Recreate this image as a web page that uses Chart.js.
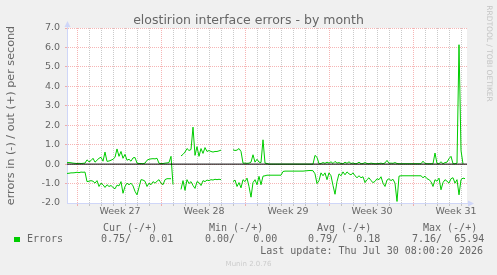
<!DOCTYPE html>
<html>
<head>
<meta charset="utf-8">
<title>elostirion interface errors - by month</title>
<script src="https://cdn.jsdelivr.net/npm/chart.js@4.4.1/dist/chart.umd.min.js"></script>
<style>
  html, body { margin: 0; padding: 0; background: #f0f0f0; }
  #graph { display: block; }
</style>
</head>
<body>
<canvas id="graph" width="497" height="275"></canvas>
<script>
// one sample every 4 hours, graph spans 800 hours
const HOURS_PER_SAMPLE = 4;
const SPAN_HOURS = 800;
const FIRST_MIDNIGHT = 20;   // hour of first day boundary
const FIRST_WEEK = 20;       // hour of first week boundary (Monday)
const LABEL_OFFSET = 86;     // week label sits mid-week

// errors out (+) per second
const outErrors = [
  0.08, 0.08, 0.07, 0.05, 0.04, 0.03, 0.04, 0.03, 0.04, 0.05,
  0.22, 0.12, 0.18, 0.30, 0.10, 0.20, 0.30, 0.35, 0.15, 0.62,
  0.14, 0.16, 0.20, 0.25, 0.35, 0.78, 0.40, 0.65, 0.30, 0.50,
  0.20, 0.25, 0.15, 0.32, 0.34, 0.05, 0.03, 0.03, 0.02, 0.05,
  0.20, 0.25, 0.27, 0.28, 0.27, 0.30, 0.04, 0.03, 0.03, 0.05,
  0.06, 0.08, 0.40, -1.05, null, null, null, 0.42, 0.50, 0.62,
  0.80, 0.70, 0.75, 1.90, 0.45, 0.90, 0.40, 0.80, 0.55, 0.85,
  0.65, 0.70, 0.65, 0.62, 0.65, 0.65, 0.68, 0.72, null, null,
  null, null, null, 0.74, 0.70, 0.72, 0.80, 0.65, 0.05, 0.05,
  0.04, 0.05, 0.10, 0.48, 0.10, 0.25, 0.10, 0.08, 1.25, 0.05,
  0.03, 0.00, 0.00, 0.00, 0.00, 0.00, 0.00, 0.00, 0.00, 0.00,
  0.00, 0.00, 0.00, 0.00, 0.00, 0.00, 0.00, 0.00, 0.00, 0.00,
  0.00, 0.00, 0.00, 0.00, 0.45, 0.35, 0.02, 0.03, 0.08, 0.04,
  0.10, 0.05, 0.12, 0.03, 0.14, 0.05, 0.08, 0.03, 0.02, 0.10,
  0.04, 0.12, 0.03, 0.06, 0.02, 0.03, 0.10, 0.02, 0.03, 0.08,
  0.03, 0.02, 0.05, 0.03, 0.02, 0.02, 0.03, 0.05, 0.02, 0.06,
  0.19, 0.04, 0.05, 0.04, 0.08, 0.03, 0.02, 0.02, 0.02, 0.02,
  0.02, 0.02, 0.02, 0.02, 0.02, 0.02, 0.02, 0.02, 0.15, 0.03,
  0.02, 0.02, 0.02, 0.02, 0.57, 0.03, 0.02, 0.12, 0.02, 0.08,
  0.10, 0.28, 0.40, 0.02, 0.02, 0.05, 6.14, 0.70, 0.01, null
];

// errors in (-) per second, already negated
const inErrors = [
  -0.48, -0.47, -0.45, -0.45, -0.44, -0.42, -0.44, -0.41, -0.42, -0.41,
  -0.90, -0.88, -0.85, -0.88, -0.98, -0.85, -1.15, -0.98, -1.06, -1.20,
  -1.06, -1.15, -1.10, -1.20, -1.27, -1.08, -1.12, -0.90, -1.50, -1.15,
  -0.98, -1.06, -0.98, -1.12, -1.40, -1.58, -1.20, -0.80, -0.82, -0.88,
  -1.15, -0.98, -1.06, -0.90, -0.98, -0.88, -0.80, -0.98, -1.06, -0.80,
  -0.75, -0.75, -0.75, null, null, null, null, -1.30, -0.85, -1.35,
  -0.80, -1.00, -0.90, -1.10, -1.25, -0.90, -0.95, -1.10, -0.85, -0.90,
  -0.82, -0.85, -0.80, -0.82, -0.78, -0.80, -0.78, -0.80, null, null,
  null, null, null, -0.90, -0.82, -1.15, -0.95, -1.22, -0.80, -0.90,
  -0.72, -1.15, -1.70, -0.95, -0.80, -1.06, -0.63, -1.06, -0.62, -0.60,
  -0.57, -0.57, -0.57, -0.57, -0.57, -0.57, -0.57, -0.57, -0.38, -0.36,
  -0.36, -0.36, -0.36, -0.36, -0.36, -0.36, -0.36, -0.36, -0.36, -0.35,
  -0.34, -0.33, -0.33, -0.34, -0.50, -1.00, -0.85, -0.45, -0.60, -0.45,
  -0.80, -0.45, -0.60, -1.10, -1.55, -0.90, -0.50, -0.60, -0.40, -0.55,
  -0.40, -0.50, -0.55, -0.45, -0.60, -0.70, -0.60, -0.70, -0.65, -0.95,
  -0.80, -0.70, -0.85, -0.95, -0.89, -0.75, -0.80, -0.65, -0.98, -1.15,
  -0.82, -0.75, -0.85, -0.78, -0.98, -1.92, -0.62, -0.60, -0.60, -0.60,
  -0.60, -0.60, -0.60, -0.60, -0.60, -0.60, -0.60, -0.60, -0.70, -0.62,
  -0.75, -0.80, -0.90, -1.15, -0.80, -0.88, -0.72, -1.32, -0.95, -0.80,
  -0.88, -0.98, -0.75, -0.70, -0.98, -0.80, -1.58, -0.80, -0.72, -0.75
];

const weekNumbers = [27, 28, 29, 30, 31];

// legend: cur, min, avg, max
const legendHeaders = ['Cur (-/+)', 'Min (-/+)', 'Avg (-/+)', 'Max (-/+)'];
const legendIn = [0.75, 0.00, 0.79, 7.16];
const legendOut = [0.01, 0.00, 0.18, 65.94];
const lastUpdate = 'Thu Jul 30 08:00:20 2026';

const FONT_COLOR = '#666666';
const MGRID = 'rgba(235, 90, 90, 0.45)';
const GRID = 'rgba(150, 150, 150, 0.5)';
const AXIS = '#CFD6F8';
const LINE_GREEN = '#00CC00';

function toPoints(values) {
    return values.map((v, i) => ({ x: i * HOURS_PER_SAMPLE, y: v }));
}

function isWeekLine(v) {
    return v >= FIRST_WEEK && (v - FIRST_WEEK) % 168 === 0;
}

function isDayLine(v) {
    return v >= FIRST_MIDNIGHT && (v - FIRST_MIDNIGHT) % 24 === 0;
}

function xGridColor(ctx) {
    const v = ctx.tick ? ctx.tick.value : null;
    if (v === null) return 'transparent';
    if (isWeekLine(v)) return MGRID;
    if (isDayLine(v)) return GRID;
    return 'transparent';
}

function yGridColor(ctx) {
    const v = ctx.tick ? ctx.tick.value : null;
    if (v === null || v <= -2) return 'transparent';
    return Number.isInteger(Math.round(v * 100) / 100) ? MGRID : GRID;
}

// white canvas behind the plot
const backgroundPlugin = {
    id: 'muninBackground',
    beforeDraw(chart) {
        const { ctx, chartArea: a } = chart;
        ctx.save();
        ctx.fillStyle = '#F0F0F0';
        ctx.fillRect(0, 0, chart.width, chart.height);
        ctx.fillStyle = '#FFFFFF';
        ctx.fillRect(a.left, a.top, a.right - a.left, a.bottom - a.top);
        ctx.restore();
    }
};

// arrows, title, watermark and legend text
const decorPlugin = {
    id: 'muninDecor',
    afterDraw(chart) {
        const { ctx, chartArea: a } = chart;
        const cx = chart.width / 2;
        ctx.save();

        // axis arrows
        ctx.fillStyle = AXIS;
        ctx.strokeStyle = AXIS;
        ctx.lineWidth = 1;
        ctx.beginPath();
        ctx.moveTo(a.left + 0.5, a.top);
        ctx.lineTo(a.left + 0.5, a.top - 4);
        ctx.moveTo(a.right, a.bottom + 0.5);
        ctx.lineTo(a.right + 3, a.bottom + 0.5);
        ctx.stroke();
        ctx.beginPath();
        ctx.moveTo(a.left + 0.5, a.top - 7);
        ctx.lineTo(a.left + 3.5, a.top - 1);
        ctx.lineTo(a.left - 2.5, a.top - 1);
        ctx.closePath();
        ctx.fill();
        ctx.beginPath();
        ctx.moveTo(a.right + 7, a.bottom + 0.5);
        ctx.lineTo(a.right + 1, a.bottom - 2.5);
        ctx.lineTo(a.right + 1, a.bottom + 3.5);
        ctx.closePath();
        ctx.fill();

        // title
        ctx.fillStyle = FONT_COLOR;
        ctx.font = '12.5px "DejaVu Sans"';
        ctx.textAlign = 'center';
        ctx.textBaseline = 'alphabetic';
        ctx.fillText('elostirion interface errors - by month', cx, 24);

        // rrdtool watermark
        ctx.save();
        ctx.translate(488.5, 53.5);
        ctx.rotate(Math.PI / 2);
        ctx.fillStyle = '#C4C4C4';
        ctx.font = '7.5px "DejaVu Sans"';
        ctx.textBaseline = 'middle';
        ctx.fillText('RRDTOOL / TOBI OETIKER', 0, 0);
        ctx.restore();

        // legend
        ctx.font = '10px "DejaVu Sans Mono"';
        ctx.textAlign = 'left';
        ctx.textBaseline = 'middle';
        ctx.fillStyle = FONT_COLOR;
        const headerX = [103, 209, 317, 423];
        const valueX = [101, 205, 308, 412];
        legendHeaders.forEach((h, i) => ctx.fillText(h, headerX[i], 228));
        ctx.fillStyle = LINE_GREEN;
        ctx.fillRect(14, 237, 6, 5);
        ctx.fillStyle = FONT_COLOR;
        ctx.fillText('Errors', 27, 239.5);
        legendIn.forEach((v, i) => {
            const s = v.toFixed(2) + '/' + legendOut[i].toFixed(2).padStart(7);
            ctx.fillText(s, valueX[i], 239.5);
        });
        ctx.textAlign = 'right';
        ctx.fillText('Last update: ' + lastUpdate, 483, 251.5);

        ctx.textAlign = 'center';
        ctx.fillStyle = '#CCCCCC';
        ctx.font = '7px "DejaVu Sans"';
        ctx.fillText('Munin 2.0.76', cx, 264.5);
        ctx.restore();
    }
};

const chart = new Chart(document.getElementById('graph'), {
    type: 'line',
    data: {
        datasets: [{
            label: 'zero',
            data: [{ x: 0, y: 0 }, { x: SPAN_HOURS, y: 0 }],
            borderColor: '#000000',
            borderWidth: 1,
            pointRadius: 0,
            order: 0
        }, {
            label: 'out',
            data: toPoints(outErrors),
            borderColor: LINE_GREEN,
            borderWidth: 1,
            pointRadius: 0,
            spanGaps: false,
            order: 1
        }, {
            label: 'in',
            data: toPoints(inErrors),
            borderColor: LINE_GREEN,
            borderWidth: 1,
            pointRadius: 0,
            spanGaps: false,
            order: 2
        }]
    },
    options: {
        responsive: false,
        animation: false,
        devicePixelRatio: 1,
        layout: { padding: { top: 28, right: 30, bottom: 0, left: 0 } },
        plugins: {
            legend: { display: false },
            tooltip: { enabled: false },
            title: { display: false }
        },
        elements: { line: { tension: 0 } },
        scales: {
            x: {
                type: 'linear',
                min: 0,
                max: SPAN_HOURS,
                afterFit(scale) { scale.height = 72; },
                afterBuildTicks(scale) {
                    const ticks = [{ value: 0 }];
                    for (let h = FIRST_MIDNIGHT; h < SPAN_HOURS; h += 24) ticks.push({ value: h });
                    weekNumbers.forEach((w, i) => ticks.push({ value: FIRST_WEEK + LABEL_OFFSET + i * 168, week: w }));
                    ticks.push({ value: SPAN_HOURS });
                    ticks.sort((p, q) => p.value - q.value);
                    scale.ticks = ticks;
                },
                ticks: {
                    autoSkip: false,
                    maxRotation: 0,
                    padding: 0,
                    color: FONT_COLOR,
                    font: { family: 'DejaVu Sans', size: 9.5 },
                    callback(value) {
                        const i = weekNumbers.findIndex((w, k) => FIRST_WEEK + LABEL_OFFSET + k * 168 === value);
                        return i >= 0 ? 'Week ' + weekNumbers[i] : '';
                    }
                },
                grid: {
                    color: xGridColor,
                    tickColor: xGridColor,
                    tickLength: 3,
                    lineWidth: 1
                },
                border: { color: AXIS, dash: [1, 1] }
            },
            y: {
                min: -2,
                max: 7,
                afterFit(scale) { scale.width = 67; },
                ticks: {
                    stepSize: 0.5,
                    padding: 5,
                    color: FONT_COLOR,
                    font: { family: 'DejaVu Sans', size: 9.5 },
                    callback(value) {
                        return Number.isInteger(Math.round(value * 100) / 100) ? value.toFixed(1) : '';
                    }
                },
                grid: {
                    color: yGridColor,
                    tickColor: yGridColor,
                    tickLength: 2,
                    lineWidth: 1
                },
                border: { color: AXIS, dash: [1, 1] },
                title: {
                    display: true,
                    text: 'errors in (-) / out (+) per second',
                    color: FONT_COLOR,
                    font: { family: 'DejaVu Sans', size: 11.2 },
                    padding: { top: 4.4, bottom: 0 }
                }
            }
        }
    },
    plugins: [backgroundPlugin, decorPlugin]
});
</script>
</body>
</html>
